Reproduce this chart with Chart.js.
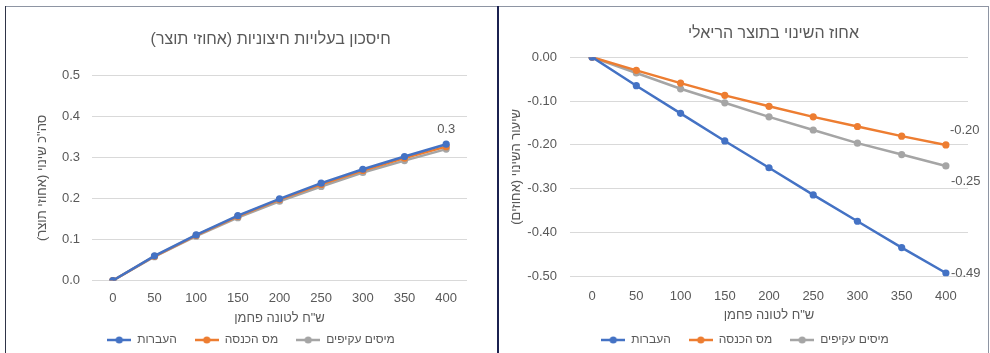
<!DOCTYPE html>
<html>
<head>
<meta charset="utf-8">
<script src="https://cdn.jsdelivr.net/npm/chart.js@4.4.1/dist/chart.umd.min.js"></script>
<style>
  body { margin: 0; background: #fff; width: 990px; height: 353px; overflow: hidden; position: relative; }
  .line { position: absolute; }
  .box { position: absolute; }
</style>
</head>
<body>
<div class="line" style="left:5px; top:6px; width:984px; height:1px; background:#8e95a3;"></div>
<div class="line" style="left:5px; top:6px; width:1px; height:347px; background:#2f3447;"></div>
<div class="line" style="left:497px; top:6px; width:2px; height:347px; background:#1b2150;"></div>
<div class="line" style="left:988px; top:6px; width:1px; height:347px; background:#8e95a3;"></div>
<div class="box" style="left:6px; top:7px; width:491px; height:346px;"><canvas id="chartSaving"></canvas></div>
<div class="box" style="left:499px; top:7px; width:489px; height:346px;"><canvas id="chartGdp"></canvas></div>
<script>
const RLM = "\u200F";
const carbonPrice = ["0", "50", "100", "150", "200", "250", "300", "350", "400"];
const seriesNames = ["העברות", "מס הכנסה", "מיסים עקיפים"];
const seriesColors = ["#4472C4", "#ED7D31", "#A5A5A5"];

// left chart - saving in external costs (% of GDP)
const savingTransfers = [0, 0.060, 0.111, 0.158, 0.199, 0.237, 0.271, 0.302, 0.332];
const savingIncomeTax = [0, 0.059, 0.110, 0.156, 0.197, 0.234, 0.268, 0.298, 0.326];
const savingIndirect = [0, 0.058, 0.108, 0.153, 0.193, 0.229, 0.263, 0.292, 0.320];
const savingTicks = [0, 0.1, 0.2, 0.3, 0.4, 0.5];

// right chart - change in real GDP (%)
const gdpTransfers = [0, -0.065, -0.128, -0.191, -0.252, -0.314, -0.374, -0.434, -0.492];
const gdpIncomeTax = [0, -0.030, -0.059, -0.087, -0.112, -0.136, -0.158, -0.180, -0.200];
const gdpIndirect = [0, -0.036, -0.072, -0.104, -0.136, -0.166, -0.196, -0.222, -0.248];
const gdpTicks = [0, -0.1, -0.2, -0.3, -0.4, -0.5];

const fontFamily = "'Liberation Sans', 'DejaVu Sans', sans-serif";
const textColor = "#595959";
const gridColor = "#D9D9D9";

function legendMarker(color) {
  const c = document.createElement("canvas");
  c.width = 24;
  c.height = 8;
  const ctx = c.getContext("2d");
  ctx.strokeStyle = color;
  ctx.lineWidth = 2.5;
  ctx.beginPath();
  ctx.moveTo(0, 4);
  ctx.lineTo(24, 4);
  ctx.stroke();
  ctx.fillStyle = color;
  ctx.beginPath();
  ctx.arc(12, 4, 3.6, 0, Math.PI * 2);
  ctx.fill();
  return c;
}

const endLabelsPlugin = {
  id: "endLabels",
  afterDatasetsDraw: (chart, args, options) => {
    const { ctx } = chart;
    ctx.save();
    ctx.font = "13px " + fontFamily;
    ctx.fillStyle = textColor;
    ctx.textBaseline = "middle";
    (options.labels || []).forEach((lab) => {
      const meta = chart.getDatasetMeta(lab.dataset);
      const values = chart.data.datasets[lab.dataset].data;
      const last = values.length - 1;
      const pt = meta.data[last];
      ctx.textAlign = lab.align;
      ctx.fillText(values[last].toFixed(lab.decimals), pt.x + lab.dx, pt.y + lab.dy);
    });
    ctx.restore();
  },
};

function makeDatasets(values) {
  return values.map((data, i) => ({
    label: seriesNames[i],
    data: data,
    borderColor: seriesColors[i],
    backgroundColor: seriesColors[i],
    borderWidth: 2.5,
    pointRadius: 3.6,
    pointHoverRadius: 3.6,
    pointBorderWidth: 0,
    tension: 0,
  }));
}

function makeChart(id, cfg) {
  const ctx = document.getElementById(id);
  return new Chart(ctx, {
    type: "line",
    data: {
      labels: carbonPrice,
      datasets: makeDatasets(cfg.series),
    },
    options: {
      responsive: true,
      maintainAspectRatio: false,
      animation: false,
      layout: { padding: { left: cfg.padLeft, right: cfg.padRight, top: 0, bottom: -3 } },
      plugins: {
        tooltip: { enabled: false },
        title: {
          display: true,
          fullSize: false,
          text: cfg.titleLead + RLM + cfg.title + RLM + cfg.titleTrail,
          color: textColor,
          font: { family: fontFamily, size: 16, weight: "normal" },
          padding: cfg.titlePad,
        },
        legend: {
          position: "bottom",
          labels: {
            usePointStyle: true,
            pointStyleWidth: 24,
            color: textColor,
            font: { family: fontFamily, size: 12 },
            padding: 18,
            generateLabels: (chart) => {
              const items = Chart.defaults.plugins.legend.labels.generateLabels(chart);
              items.forEach((it) => {
                it.pointStyle = legendMarker(seriesColors[it.datasetIndex]);
              });
              return items;
            },
          },
        },
        endLabels: { labels: cfg.endLabels },
      },
      scales: {
        x: {
          offset: true,
          grid: { display: false, drawTicks: false },
          border: { display: false },
          ticks: {
            color: textColor,
            font: { family: fontFamily, size: 13 },
            padding: cfg.xTickPad,
            maxRotation: 0,
          },
          title: {
            display: true,
            text: 'ש"ח לטונה פחמן',
            color: textColor,
            font: { family: fontFamily, size: 13 },
            padding: cfg.xTitlePad,
          },
        },
        y: {
          min: cfg.min,
          max: cfg.max,
          afterFit: (scale) => {
            scale.width = cfg.yWidth;
          },
          afterBuildTicks: (scale) => {
            scale.ticks = cfg.ticks.map((v) => ({ value: v }));
          },
          grid: { color: gridColor, drawTicks: false },
          border: { display: false },
          ticks: {
            color: textColor,
            font: { family: fontFamily, size: 13 },
            padding: cfg.yTickPad,
            callback: (v) => Number(v).toFixed(cfg.decimals),
          },
          title: {
            display: true,
            text: RLM + cfg.yTitle + RLM,
            color: textColor,
            font: { family: fontFamily, size: 13 },
            padding: { top: cfg.yTitlePad, bottom: 0 },
          },
        },
      },
    },
    plugins: [endLabelsPlugin],
  });
}

makeChart("chartSaving", {
  series: [savingTransfers, savingIncomeTax, savingIndirect],
  title: "חיסכון בעלויות חיצוניות (אחוזי תוצר)",
  titleLead: "",
  titleTrail: "    ",
  yTitle: 'סה"כ שינוי (אחוזי תוצר)',
  min: 0,
  max: 0.5,
  ticks: savingTicks,
  decimals: 1,
  padLeft: 29,
  padRight: 30,
  yWidth: 57,
  yTickPad: 12,
  yTitlePad: 0,
  xTickPad: 10,
  xTitlePad: { top: -5.4, bottom: -10.3 },
  titlePad: { top: 23, bottom: 26 },
  endLabels: [{ dataset: 0, dx: 0, dy: -15, align: "center", decimals: 1 }],
});

makeChart("chartGdp", {
  series: [gdpTransfers, gdpIncomeTax, gdpIndirect],
  title: "אחוז השינוי בתוצר הריאלי",
  titleLead: "  ",
  titleTrail: "",
  yTitle: "שיעור השינוי (אחוזים)",
  min: -0.5,
  max: 0,
  ticks: gdpTicks,
  decimals: 2,
  padLeft: 23,
  padRight: 20,
  yWidth: 48,
  yTickPad: 13,
  yTitlePad: -13,
  xTickPad: 12,
  xTitlePad: { top: -8.4, bottom: -7.3 },
  titlePad: { top: 17, bottom: 14 },
  endLabels: [
    { dataset: 0, dx: 5, dy: 0, align: "left", decimals: 2 },
    { dataset: 1, dx: 4, dy: -14, align: "left", decimals: 2 },
    { dataset: 2, dx: 5, dy: 15, align: "left", decimals: 2 },
  ],
});
</script>
</body>
</html>
